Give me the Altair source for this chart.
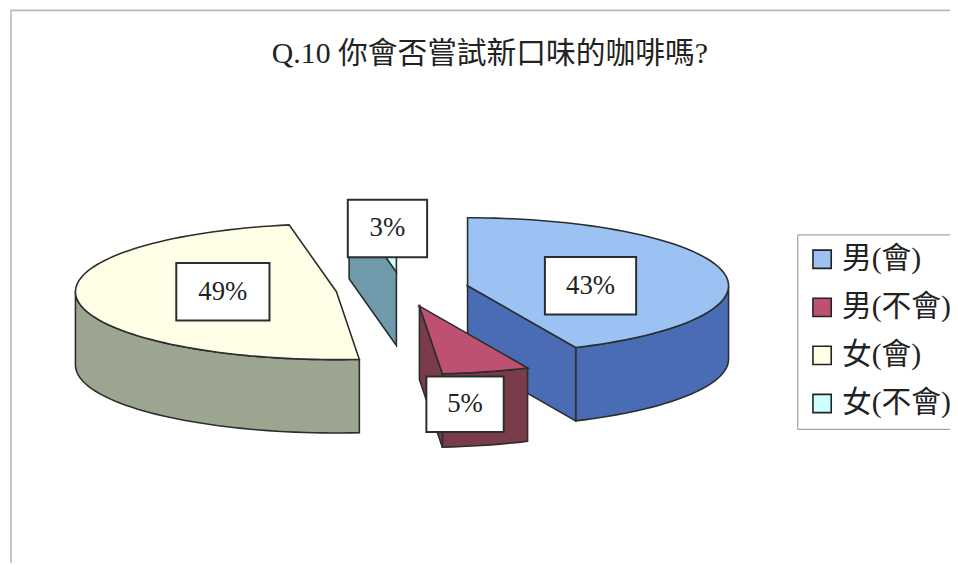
import math
import altair as alt
import pandas as pd

TITLE = "Q.10 你會否嘗試新口味的咖啡嗎?"
categories = ["男(會)", "男(不會)", "女(會)", "女(不會)"]
percents = [43.2, 5.4, 48.5, 2.9]
top_colors = ["#9CC2F4", "#BE5172", "#FFFFE8", "#CCFFFF"]
wall_colors = ["#4A6CB4", "#7A3C4B", "#9BA58F", "#6E9AAB"]
draw_order = [3, 2, 0, 1]

W, H = 950, 557
CX, CY = 397.8, 281.4  # pie centre in plot units
RX, RY = 263.2, 68.5   # ellipse radii
DEPTH = 74
EXPLODE = 67.2
CJK = "Liberation Serif, Noto Sans CJK TC"

# label boxes: centre offset from each slice's own centre, box half-size
label_offset = [(124, 0), (46, 99), (-114.5, 0), (-9, -44)]
label_half = [(46, 29), (39, 28), (47, 29), (40, 29)]


def pt(c, deg, dz=0.0):
    a = math.radians(deg)
    return (c[0] + RX * math.sin(a), c[1] - RY * math.cos(a) + dz)


def arc(c, a0, a1, dz=0.0):
    n = max(2, int(abs(a1 - a0) / 2) + 1)
    return [pt(c, a0 + (a1 - a0) * k / (n - 1), dz) for k in range(n)]


angles, acc = [], 0.0
for p in percents:
    angles.append((acc * 3.6, (acc + p) * 3.6))
    acc += p

centres = []
for a0, a1 in angles:
    mid = math.radians((a0 + a1) / 2)
    centres.append((CX + EXPLODE * math.sin(mid),
                    CY - EXPLODE * math.cos(mid) * RY / RX))

x_scale = alt.Scale(domain=[0, W], nice=False, zero=False)
y_scale = alt.Scale(domain=[H, 0], nice=False, zero=False)


def poly(points, fill):
    df = pd.DataFrame([{"x": x, "y": y, "i": i} for i, (x, y) in enumerate(points)])
    return alt.Chart(df).mark_line(
        fill=fill, stroke="#2a2e2c", strokeWidth=1.6,
        interpolate="linear-closed", strokeJoin="miter",
    ).encode(
        x=alt.X("x:Q", scale=x_scale, axis=None),
        y=alt.Y("y:Q", scale=y_scale, axis=None),
        order=alt.Order("i:Q"),
    )


layers = []

# chart frame
frame_df = pd.DataFrame({"x": [3.0, 3.0, W], "y": [H, 0.0, 0.0], "i": [0, 1, 2]})
layers.append(
    alt.Chart(frame_df).mark_line(stroke="#aebcc2", strokeWidth=1.6).encode(
        x=alt.X("x:Q", scale=x_scale, axis=None),
        y=alt.Y("y:Q", scale=y_scale, axis=None),
        order=alt.Order("i:Q"),
    )
)

# series markers (carry the legend; covered by the slice tops)
legend_df = pd.DataFrame({
    "cat": categories,
    "x": [c[0] for c in centres],
    "y": [c[1] for c in centres],
})
layers.append(
    alt.Chart(legend_df).mark_square(size=10, opacity=1).encode(
        x=alt.X("x:Q", scale=x_scale, axis=None),
        y=alt.Y("y:Q", scale=y_scale, axis=None),
        color=alt.Color(
            "cat:N",
            scale=alt.Scale(domain=categories, range=top_colors),
            sort=categories,
            legend=alt.Legend(
                title=None, orient="none", legendX=796, legendY=226,
                fillColor="white", strokeColor="#8a8f90", padding=10,
                symbolType="square", symbolSize=340, symbolStrokeColor="#222",
                symbolStrokeWidth=1.6, symbolOpacity=1,
                labelFont=CJK, labelFontSize=30, labelColor="#222",
                labelOffset=5, rowPadding=18.5, labelLimit=200,
            ),
        ),
    )
)

for idx in draw_order:
    c = centres[idx]
    a0, a1 = angles[idx]
    top, wall = top_colors[idx], wall_colors[idx]
    # outer wall: the part of the rim that faces the viewer
    lo, hi = max(a0, 90.0), min(a1, 270.0)
    if lo < hi:
        layers.append(poly(arc(c, lo, hi) + arc(c, hi, lo, DEPTH), wall))
    # cut faces
    if math.sin(math.radians(a0)) < -1e-6:
        p = pt(c, a0)
        layers.append(poly([c, p, (p[0], p[1] + DEPTH), (c[0], c[1] + DEPTH)], wall))
    if math.sin(math.radians(a1)) > 1e-6:
        p = pt(c, a1)
        layers.append(poly([c, p, (p[0], p[1] + DEPTH), (c[0], c[1] + DEPTH)], wall))
    # top face
    layers.append(poly([c] + arc(c, a0, a1), top))

# percentage labels
box_rows = []
for idx in range(len(categories)):
    c = centres[idx]
    ox, oy = label_offset[idx]
    hx, hy = label_half[idx]
    box_rows.append({
        "x": c[0] + ox - hx, "x2": c[0] + ox + hx,
        "y": c[1] + oy - hy, "y2": c[1] + oy + hy,
        "xm": c[0] + ox, "ym": c[1] + oy,
        "label": f"{int(percents[idx] + 0.5)}%",
    })
box_df = pd.DataFrame(box_rows)
layers.append(
    alt.Chart(box_df).mark_rect(fill="white", stroke="#2a2e2c", strokeWidth=2).encode(
        x=alt.X("x:Q", scale=x_scale, axis=None), x2="x2:Q",
        y=alt.Y("y:Q", scale=y_scale, axis=None), y2="y2:Q",
    )
)
layers.append(
    alt.Chart(box_df).mark_text(
        font="Liberation Serif", fontSize=27, color="#222", baseline="middle", align="center",
    ).encode(
        x=alt.X("xm:Q", scale=x_scale, axis=None),
        y=alt.Y("ym:Q", scale=y_scale, axis=None),
        text="label:N",
    )
)

chart = alt.layer(*layers).properties(
    width=W, height=H, padding=0, autosize=alt.AutoSizeParams(type="none"),
    title=alt.TitleParams(
        TITLE, font=CJK, fontSize=30, fontWeight="normal", color="#222",
        anchor="middle", offset=0, dx=11, dy=92, baseline="bottom",
    ),
).configure_view(stroke=None)

chart.save("out.html", embed_options={"renderer": "svg", "actions": False})
